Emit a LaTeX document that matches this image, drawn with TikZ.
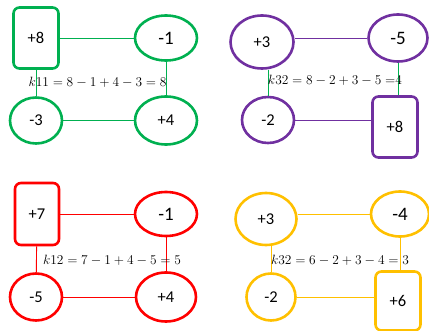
\documentclass[tikz,border=0pt]{standalone}
\usepackage{fontspec}
\setmainfont{Carlito}
\usetikzlibrary{shapes.geometric}
\definecolor{cgreen}{RGB}{0,176,80}
\definecolor{cpurple}{RGB}{112,48,160}
\definecolor{cred}{RGB}{255,0,0}
\definecolor{cyellow}{RGB}{255,192,0}
\tikzset{
  valbox/.style={draw, line width=2.6pt, rounded corners=6pt, minimum width=#1, inner sep=0pt, font=\fontsize{16.5}{18}\selectfont},
  valell/.style={draw, ellipse, line width=2.6pt, inner sep=0pt, font=\fontsize{16.5}{18}\selectfont},
  link/.style={line width=0.9pt},
  eqn/.style={font=\fontsize{12}{14}\selectfont, inner sep=0pt, scale=1.12, transform shape}
}
\begin{document}
\begin{tikzpicture}[x=1pt,y=-1pt]
\useasboundingbox (0,0) rectangle (429,331);
% ---------- panel 1 (green)
\begin{scope}[every node/.append style={color=cgreen, text=black}]
\node[valbox=45pt, minimum height=61pt] (a8) at (36,38) {+8};
\node[valell, minimum width=62pt, minimum height=45pt, font=\fontsize{19}{21}\selectfont] (am1) at (166,38) {-1};
\node[valell, minimum width=52pt, minimum height=46pt] (am3) at (36,120.5) {-3};
\node[valell, minimum width=62pt, minimum height=48pt] (ap4) at (166,120.5) {+4};
\end{scope}
\draw[link, cgreen] (a8) -- (am1);
\draw[link, cgreen] (a8) -- (am3);
\draw[link, cgreen] (am1) -- (ap4);
\draw[link, cgreen] (am3) -- (ap4);
\node[eqn] (aeq) at (97.5,82) {$k11 = 8 - 1 + 4 - 3 = 8$};
% ---------- panel 2 (purple)
\begin{scope}[every node/.append style={color=cpurple, text=black}]
\node[valell, minimum width=63pt, minimum height=53pt] (bp3) at (262,42) {+3};
\node[valell, minimum width=59pt, minimum height=47pt, font=\fontsize{19}{21}\selectfont] (bm5) at (398,38) {-5};
\node[valell, minimum width=52pt, minimum height=46pt] (bm2) at (268,120) {-2};
\node[valbox=45pt, minimum height=61pt] (b8) at (395,127) {+8};
\end{scope}
\draw[link, cpurple] (bm5.west) -- (bm5.west -| bp3.east);
\draw[link, cgreen] (bm2.north) -- (bm2.north |- bp3.south);
\draw[link, cgreen] (bm5.south) -- (bm5.south |- b8.north);
\draw[link, cpurple] (bm2.east) -- (bm2.east -| b8.west);
\node[eqn] (beq) at (335,80) {$k32 = 8 - 2 + 3 - 5\;{=}4$};
% ---------- panel 3 (red)
\begin{scope}[every node/.append style={color=cred, text=black}]
\node[valbox=44pt, minimum height=62pt] (c7) at (37,214) {+7};
\node[valell, minimum width=62pt, minimum height=44pt, font=\fontsize{19}{21}\selectfont] (cm1) at (166,214) {-1};
\node[valell, minimum width=52pt, minimum height=47pt] (cm5) at (36,297) {-5};
\node[valell, minimum width=60pt, minimum height=49pt] (cp4) at (166,297) {+4};
\end{scope}
\draw[link, cred] (c7) -- (cm1);
\draw[link, cred] (c7) -- (cm5);
\draw[link, cred] (cm1) -- (cp4);
\draw[link, cred] (cm5) -- (cp4);
\node[eqn] (ceq) at (112,260) {$k12 = 7 - 1 + 4 - 5 = 5$};
% ---------- panel 4 (yellow)
\begin{scope}[every node/.append style={color=cyellow, text=black}]
\node[valell, minimum width=61pt, minimum height=52pt] (dp3) at (266,219) {+3};
\node[valell, minimum width=58pt, minimum height=45pt, font=\fontsize{19}{21}\selectfont] (dm4) at (400,214) {-4};
\node[valell, minimum width=49pt, minimum height=47pt] (dm2) at (271,297) {-2};
\node[valbox=45pt, minimum height=59pt] (d6) at (398,301) {+6};
\end{scope}
\draw[link, cyellow] (dm4.west) -- (dm4.west -| dp3.east);
\draw[link, cyellow] (dm2.north) -- (dm2.north |- dp3.south);
\draw[link, cyellow] (dm4.south) -- (dm4.south |- d6.north);
\draw[link, cyellow] (dm2.east) -- (dm2.east -| d6.west);
\node[eqn] (deq) at (340,260) {$k32 = 6 - 2 + 3 - 4 = 3$};
\end{tikzpicture}
\end{document}
